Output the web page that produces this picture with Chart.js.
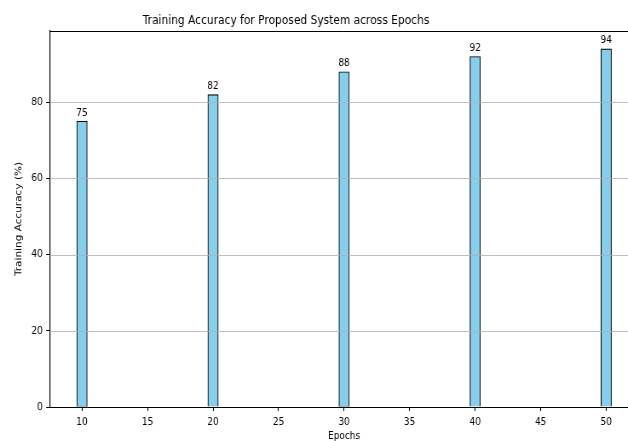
<!DOCTYPE html>
<html>
<head>
<meta charset="utf-8">
<script src="https://cdn.jsdelivr.net/npm/chart.js@4.4.0/dist/chart.umd.min.js"></script>
<style>
  html, body { margin: 0; padding: 0; background: #fff; overflow: hidden; }
  /* the reference is horizontally squeezed, so draw wide and squeeze the same way */
  #wrap { width: 765px; height: 441px; transform: scaleX(0.852); transform-origin: 0 0; }
</style>
</head>
<body>
<div id="wrap"><canvas id="accChart" width="765" height="441"></canvas></div>
<script>
const epochs = [10, 20, 30, 40, 50];
const accuracy = [75, 82, 88, 92, 94];
const xTicks = [10, 15, 20, 25, 30, 35, 40, 45, 50];
const yTicks = [0, 20, 40, 60, 80];
const chartTitle = "Training Accuracy for Proposed System across Epochs";

const FONT = "'DejaVu Sans', sans-serif";

// grid over the bars, like matplotlib does, plus the top spine, title and bar labels
const overlay = {
    id: "overlay",
    afterDatasetsDraw(chart) {
        const { ctx, chartArea, scales } = chart;
        ctx.save();
        ctx.strokeStyle = "#b0b0b0";
        ctx.lineWidth = 0.8;
        yTicks.forEach((v) => {
            if (v === 0) return;
            const y = Math.round(scales.y.getPixelForValue(v)) + 0.5;
            ctx.beginPath();
            ctx.moveTo(chartArea.left, y);
            ctx.lineTo(chartArea.right, y);
            ctx.stroke();
        });
        ctx.strokeStyle = "#000";
        ctx.lineWidth = 1;
        ctx.beginPath();
        ctx.moveTo(chartArea.left, chartArea.top + 0.5);
        ctx.lineTo(chartArea.right, chartArea.top + 0.5);
        ctx.stroke();

        ctx.fillStyle = "#000";
        ctx.textAlign = "center";
        ctx.textBaseline = "alphabetic";
        ctx.font = "12.5px " + FONT;
        ctx.fillText(chartTitle, chart.width * 0.4388, chartArea.top - 7.5);

        const meta = chart.getDatasetMeta(0);
        ctx.font = "10.5px " + FONT;
        ctx.textBaseline = "bottom";
        meta.data.forEach((bar, i) => {
            ctx.fillText(String(accuracy[i]), bar.x, bar.y - 3);
        });
        ctx.restore();
    },
};

new Chart(document.getElementById("accChart"), {
    type: "bar",
    data: {
        datasets: [
            {
                data: epochs.map((e, i) => ({ x: e, y: accuracy[i] })),
                backgroundColor: "#87ceeb",
                borderColor: "#000",
                borderWidth: 1.1,
                barThickness: 12.3,
            },
        ],
    },
    options: {
        responsive: false,
        animation: false,
        layout: { padding: { left: 0, right: 16, top: 31, bottom: 0 } },
        plugins: {
            legend: { display: false },
            tooltip: { enabled: false },
            title: { display: false },
        },
        scales: {
            x: {
                type: "linear",
                offset: false,
                min: 7.56,
                max: 52.44,
                afterBuildTicks: (s) => {
                    s.ticks = xTicks.map((v) => ({ value: v }));
                },
                afterFit: (s) => {
                    s.height = 34;
                },
                grid: {
                    offset: false,
                    drawOnChartArea: false,
                    tickLength: 4,
                    tickColor: "#000",
                    tickWidth: 1.1,
                },
                border: { color: "#000", width: 1 },
                ticks: {
                    color: "#000",
                    padding: 5,
                    maxRotation: 0,
                    font: { family: FONT, size: 10.5 },
                },
                title: {
                    display: true,
                    text: "Epochs",
                    color: "#000",
                    font: { family: FONT, size: 10.5 },
                    padding: { top: 0, bottom: -2 },
                },
            },
            y: {
                min: 0,
                max: 98.7,
                afterBuildTicks: (s) => {
                    s.ticks = yTicks.map((v) => ({ value: v }));
                },
                afterFit: (s) => {
                    s.width = 58.7;
                },
                grid: {
                    drawOnChartArea: false,
                    tickLength: 4.5,
                    tickColor: "#000",
                },
                border: { color: "#000", width: 1.2 },
                ticks: {
                    color: "#000",
                    padding: 4,
                    font: { family: FONT, size: 10.5 },
                },
                title: {
                    display: true,
                    text: "Training Accuracy (%)",
                    color: "#000",
                    font: { family: FONT, size: 10.5 },
                    padding: { top: 16, bottom: 0 },
                },
            },
        },
    },
    plugins: [overlay],
});
</script>
</body>
</html>
